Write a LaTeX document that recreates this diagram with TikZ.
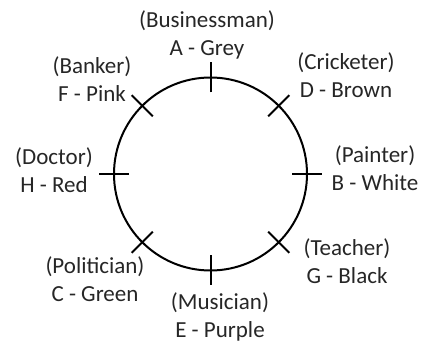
\documentclass[tikz,border=0pt]{standalone}
\usepackage{fontspec}
\setmainfont{Carlito}
\usetikzlibrary{positioning,calc}

\begin{document}
\begin{tikzpicture}[x=1pt,y=-1pt,
    seat/.style={align=center,text=black!85,font=\fontsize{23}{28}\selectfont,inner sep=0pt}]
  \useasboundingbox (0,0) rectangle (424,342);
  % table and the eight seats
  \coordinate (ctr) at (210.5,174);
  \draw[line width=2pt] (ctr) circle[radius=96.5];
  \foreach \ang in {0,45,...,315}
    \draw[line width=2pt] ($(ctr)+(\ang:81.5)$) -- ($(ctr)+(\ang:111.5)$);
  % labels
  \node[seat] (lblA) at (207,35)  {(Businessman)\\A - Grey};
  \node[seat] (lblD) at (346,75)  {(Cricketer)\\D - Brown};
  \node[seat] (lblB) at (375,168) {(Painter)\\B - White};
  \node[seat] (lblG) at (347,261) {(Teacher)\\G - Black};
  \node[seat] (lblE) at (220,317) {(Musician)\\E - Purple};
  \node[seat] (lblC) at (95,279)  {(Politician)\\C - Green};
  \node[seat] (lblH) at (54,170)  {(Doctor)\\H - Red};
  \node[seat] (lblF) at (92,79)   {(Banker)\\F - Pink};
\end{tikzpicture}
\end{document}
